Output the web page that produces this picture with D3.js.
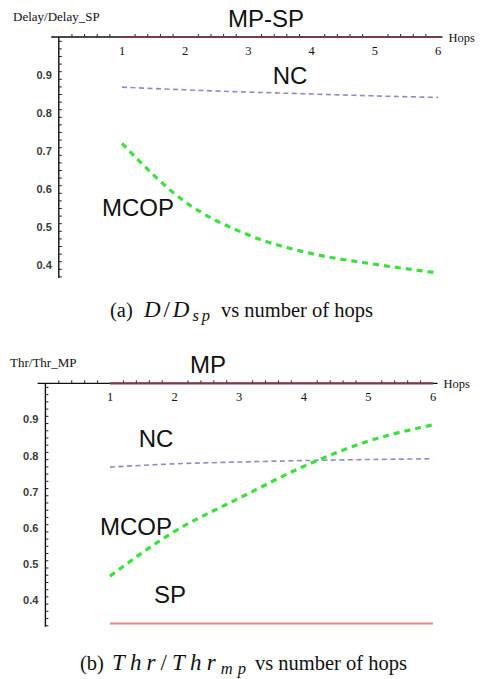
<!DOCTYPE html>
<html><head><meta charset="utf-8">
<script src="https://cdn.jsdelivr.net/npm/d3@7"></script>
<style>
html,body{margin:0;padding:0;background:#fff;}
svg{display:block;}
</style></head>
<body>
<svg id="c" width="484" height="679"></svg>
<script>
const hops = [1, 2, 3, 4, 5, 6];
const xTicks = [1, 2, 3, 4, 5, 6];
const yTicks = [0.4, 0.5, 0.6, 0.7, 0.8, 0.9];

// Panel (a): Delay / Delay_SP
const delayMPSP = [1, 1, 1, 1, 1, 1];
const delayNC = [0.868, 0.861, 0.855, 0.850, 0.845, 0.841];
const delayMCOP = [0.720, 0.566, 0.479, 0.430, 0.402, 0.379];

// Panel (b): Thr / Thr_MP
const thrMP = [1, 1, 1, 1, 1, 1];
const thrNC = [0.768, 0.777, 0.782, 0.786, 0.789, 0.791];
const thrMCOP = [0.466, 0.590, 0.682, 0.770, 0.840, 0.885];
const thrSP = [0.335, 0.335, 0.335, 0.335, 0.335, 0.335];

const svg = d3.select("#c");
const serif = "'Liberation Serif','Times New Roman',serif";
const sans = "'Liberation Sans',Arial,sans-serif";

function panel(cfg) {
  const g = svg.append("g");
  const x = d3.scaleLinear().domain([0, 6]).range([cfg.x0, cfg.x6]);
  const y = d3.scaleLinear().domain([1, 0.4]).range([cfg.y1, cfg.y04]);

  // x axis (at y=1) with ticks pointing up
  const xAxis = d3.axisTop(x).tickValues(xTicks).tickSize(4.5).tickFormat("");
  const xMinor = d3.axisTop(x).tickValues(d3.range(0.2, 6.01, 0.2).filter(v => Math.abs(v - Math.round(v)) > 1e-6)).tickSize(3).tickFormat("");
  const gx = g.append("g").attr("transform", `translate(0,${y(1)})`);
  gx.call(xAxis); gx.call(xMinor);
  gx.selectAll(".domain").remove();
  gx.selectAll("line").attr("stroke", "#222").attr("stroke-width", 1);
  g.append("line").attr("x1", x(-0.12)).attr("x2", x(6.07)).attr("y1", y(1)).attr("y2", y(1))
    .attr("stroke", "#111").attr("stroke-width", 1.3);
  g.selectAll(".xl").data(xTicks).join("text")
    .attr("x", d => x(d)).attr("y", y(1) + 18)
    .attr("text-anchor", "middle").attr("font-family", serif).attr("font-size", 12.5)
    .attr("fill", "#111").text(d => d);
  g.append("text").attr("x", x(6.07) + 6).attr("y", y(1) + 5)
    .attr("font-family", serif).attr("font-size", 12.5).attr("fill", "#111").text("Hops");

  // y axis at x=0, ticks pointing right
  const yAxis = d3.axisRight(y).tickValues(yTicks).tickSize(5).tickFormat("");
  const yMinorVals = d3.range(cfg.yMin + 0.0001, 1, 0.02).map(v => Math.round(v * 100) / 100)
    .filter(v => v > cfg.yMin && v < 1 && Math.abs(v * 10 - Math.round(v * 10)) > 1e-6);
  const yMinor = d3.axisRight(y).tickValues(yMinorVals).tickSize(3).tickFormat("");
  const gy = g.append("g").attr("transform", `translate(${x(0)},0)`);
  gy.call(yAxis); gy.call(yMinor);
  gy.selectAll(".domain").remove();
  gy.selectAll("line").attr("stroke", "#222").attr("stroke-width", 1);
  g.append("line").attr("x1", x(0)).attr("x2", x(0)).attr("y1", y(1)).attr("y2", y(cfg.yMin))
    .attr("stroke", "#111").attr("stroke-width", 1.4);
  g.selectAll(".yl").data(yTicks).join("text")
    .attr("x", x(0) - 7).attr("y", d => y(d) + 4)
    .attr("text-anchor", "end").attr("font-family", sans).attr("font-size", 11)
    .attr("font-weight", "bold").attr("fill", "#3a3a3a").text(d => d.toFixed(1));
  g.append("text").attr("x", cfg.yLabX).attr("y", cfg.yLabY)
    .attr("font-family", serif).attr("font-size", 13).attr("fill", "#111").text(cfg.yLabel);

  const line = d3.line().x((d, i) => x(hops[i])).y(d => y(d)).curve(d3.curveMonotoneX);
  cfg.series.forEach(s => {
    g.append("path").datum(s.values).attr("d", line).attr("fill", "none")
      .attr("stroke", s.color).attr("stroke-width", s.width)
      .attr("stroke-dasharray", s.dash || null);
  });
  cfg.labels.forEach(l => {
    g.append("text").attr("x", l.x).attr("y", l.y).attr("text-anchor", "middle")
      .attr("font-family", sans).attr("font-size", 24).attr("fill", "#111").text(l.t);
  });

  // caption
  const c = cfg.cap;
  g.append("text").attr("x", c.x0).attr("y", c.y).attr("font-family", serif)
    .attr("font-size", 20.5).attr("fill", "#111").text(c.tag);
  const m = g.append("text").attr("x", c.mx0).attr("y", c.y).attr("font-family", serif)
    .attr("font-size", 23).attr("font-style", "italic").attr("fill", "#111")
    .attr("textLength", c.mx1 - c.mx0).attr("lengthAdjust", "spacing");
  m.append("tspan").text(c.a);
  m.append("tspan").attr("font-style", "normal").text("/");
  m.append("tspan").text(c.b);
  m.append("tspan").attr("font-size", 16.5).attr("dy", 4).text(c.sub);
  g.append("text").attr("x", c.x1).attr("y", c.y).attr("text-anchor", "end").attr("font-family", serif)
    .attr("font-size", 20.5).attr("fill", "#111").text("vs number of hops");
}

panel({
  x0: 58.8, x6: 438, y1: 37, y04: 265, yMin: 0.366,
  yLabel: "Delay/Delay_SP", yLabX: 13, yLabY: 21,
  series: [
    { values: delayMPSP, color: "#7a3a50", width: 2.2 },
    { values: delayNC, color: "#8c8cc4", width: 1.6, dash: "5,3.5" },
    { values: delayMCOP, color: "#3ce03c", width: 3.2, dash: "6,5" }
  ],
  labels: [
    { t: "MP-SP", x: 266, y: 27 },
    { t: "NC", x: 290, y: 84 },
    { t: "MCOP", x: 138, y: 216 }
  ],
  cap: { tag: "(a)", a: "D", b: "D", sub: "sp", x0: 110, mx0: 144, mx1: 210, x1: 373, y: 317 }
});

panel({
  x0: 45.4, x6: 433, y1: 383.3, y04: 600, yMin: 0.326,
  yLabel: "Thr/Thr_MP", yLabX: 10, yLabY: 367,
  series: [
    { values: thrMP, color: "#7a3a50", width: 2.2 },
    { values: thrSP, color: "#e08a8a", width: 2 },
    { values: thrNC, color: "#8c8cc4", width: 1.6, dash: "5,3.5" },
    { values: thrMCOP, color: "#3ce03c", width: 3.2, dash: "6,5" }
  ],
  labels: [
    { t: "MP", x: 208, y: 373 },
    { t: "NC", x: 156, y: 447 },
    { t: "MCOP", x: 136, y: 535 },
    { t: "SP", x: 170, y: 603 }
  ],
  cap: { tag: "(b)", a: "Thr", b: "Thr", sub: "mp", x0: 80, mx0: 112, mx1: 246, x1: 407, y: 670 }
});
</script>
</body></html>
